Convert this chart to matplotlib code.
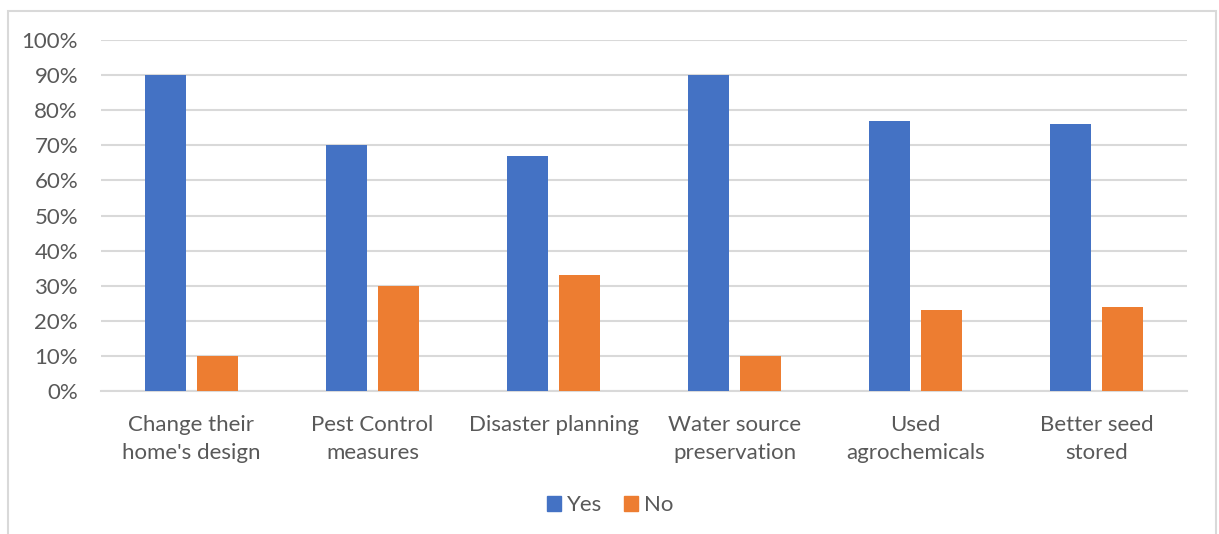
import matplotlib.pyplot as plt
import matplotlib.patches as mpatches
import numpy as np

plt.rcParams['font.family'] = ['Lato', 'DejaVu Sans']

categories = ["Change their\nhome's design", "Pest Control\nmeasures", "Disaster planning",
              "Water source\npreservation", "Used\nagrochemicals", "Better seed\nstored"]
yes_vals = [90, 70, 67, 90, 77, 76]
no_vals = [10, 30, 33, 10, 23, 24]

blue = '#4472C4'
orange = '#ED7D31'
grid_c = '#D9D9D9'
text_c = '#595959'

fig = plt.figure(figsize=(12.19, 5.34), dpi=100)
ax = fig.add_axes([101/1219, 1 - 391/534, (1187 - 101)/1219, (391 - 40)/534])

x = np.arange(len(categories))
w = 0.225
gap = 0.06
ax.bar(x - (w + gap)/2, yes_vals, w, color=blue, label='Yes', zorder=3)
ax.bar(x + (w + gap)/2, no_vals, w, color=orange, label='No', zorder=3)

ax.set_xlim(-0.5, len(categories) - 0.5)
ax.set_ylim(0, 100)
ax.set_yticks(range(0, 101, 10))
ax.set_yticklabels([f'{v}%' for v in range(0, 101, 10)])
ax.set_xticks(x)
ax.set_xticklabels(categories, linespacing=1.5)
ax.yaxis.grid(True, color=grid_c, linewidth=1.5, zorder=0)
for s in ['top', 'right', 'left']:
    ax.spines[s].set_visible(False)
ax.spines['bottom'].set_color(grid_c)
ax.spines['bottom'].set_linewidth(1.5)
ax.tick_params(axis='both', length=0, labelsize=16, colors=text_c)
ax.tick_params(axis='y', pad=16.5)
ax.tick_params(axis='x', pad=17)

handles = [mpatches.Patch(color=blue, label='Yes'), mpatches.Patch(color=orange, label='No')]
fig.legend(handles=handles, loc='center', bbox_to_anchor=(610/1219, 1 - 505/534), ncol=2,
           frameon=False, fontsize=16, handlelength=0.65, handleheight=0.65,
           handletextpad=0.25, columnspacing=1.0, labelcolor=text_c)

border = mpatches.Rectangle((8/1219, -0.1), (1216 - 8)/1219, 1 - 11/534 + 0.1,
                            transform=fig.transFigure, fill=False, edgecolor=grid_c,
                            linewidth=1.5, clip_on=False)
fig.patches.append(border)

fig.savefig('out.png', dpi=100)
